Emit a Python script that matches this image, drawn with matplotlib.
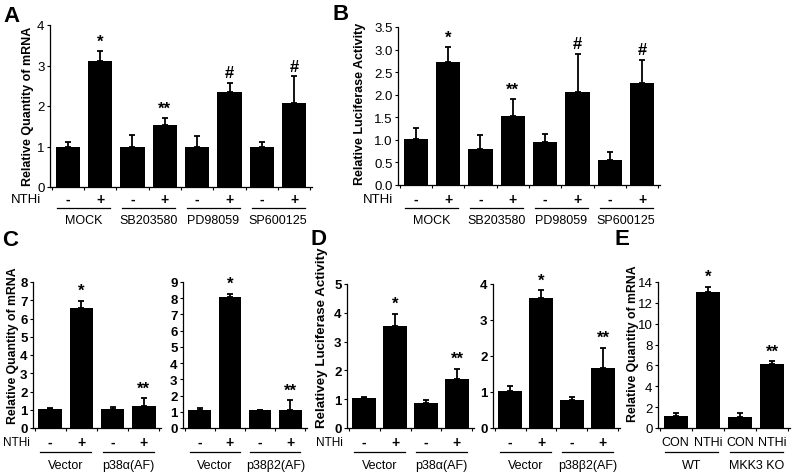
import numpy as np
import matplotlib.pyplot as plt

plt.rcParams['font.family'] = ['Liberation Sans', 'DejaVu Sans']

# ---- data ----
a_vals = [1.0, 3.1, 1.0, 1.53, 1.0, 2.34, 1.0, 2.08]
a_errs = [0.1, 0.25, 0.28, 0.17, 0.25, 0.24, 0.1, 0.65]
a_marks = ['', '*', '', '**', '', '#', '', '#']
a_groups = ['MOCK', 'SB203580', 'PD98059', 'SP600125']

b_vals = [1.03, 2.72, 0.8, 1.52, 0.95, 2.05, 0.56, 2.25]
b_errs = [0.23, 0.33, 0.31, 0.38, 0.18, 0.86, 0.17, 0.52]
b_marks = ['', '*', '', '**', '', '#', '', '#']

nthi_signs = ['-', '+'] * 4

c1_vals = [1.05, 6.55, 1.03, 1.23]
c1_errs = [0.04, 0.42, 0.1, 0.4]
c1_groups = ['Vector', 'p38\u03b1(AF)']

c2_vals = [1.1, 8.05, 1.08, 1.12]
c2_errs = [0.15, 0.22, 0.05, 0.58]
c2_groups = ['Vector', 'p38\u03b22(AF)']

d1_vals = [1.05, 3.55, 0.88, 1.7]
d1_errs = [0.03, 0.42, 0.1, 0.36]

d2_vals = [1.04, 3.6, 0.78, 1.67]
d2_errs = [0.14, 0.23, 0.07, 0.56]

cd_marks = ['', '*', '', '**']

e_vals = [1.12, 13.0, 1.1, 6.15]
e_errs = [0.3, 0.55, 0.33, 0.25]
e_marks = ['', '*', '', '**']
e_conds = ['CON', 'NTHi', 'CON', 'NTHi']
e_groups = ['WT', 'MKK3 KO']

W, H = 800, 477
fig = plt.figure(figsize=(8, 4.77), dpi=100)


def panel(box, vals, errs, marks, yticks, ylabels, tick_bold=False):
    x0, x1, yt, yb = box
    ax = fig.add_axes([x0 / W, 1 - yb / H, (x1 - x0) / W, (yb - yt) / H])
    n = len(vals)
    xs = np.arange(n)
    ax.bar(xs, vals, width=0.75, color='black')
    ax.errorbar(xs, vals, yerr=[np.zeros(n), errs], fmt='none', ecolor='black',
                elinewidth=1.3, capsize=2.2, capthick=1.3)
    ax.set_xlim(-0.55, n - 0.45)
    ax.set_ylim(0, yticks[-1])
    ax.set_yticks(yticks)
    ax.set_yticklabels(ylabels, fontsize=9.5, fontweight='bold' if tick_bold else 'normal')
    ax.set_xticks([])
    ax.set_xticks(np.arange(n + 1) - 0.5, minor=True)
    ax.tick_params(axis='x', which='minor', length=2.5, width=0.8, direction='out')
    ax.tick_params(axis='y', length=2.5, width=0.8, direction='out', pad=1.5)
    for s in ['top', 'right']:
        ax.spines[s].set_visible(False)
    for s in ['left', 'bottom']:
        ax.spines[s].set_linewidth(0.9)
    for x, v, e, m in zip(xs, vals, errs, marks):
        if m:
            ax.annotate(m, (x, v + e), xytext=(0, 2), textcoords='offset points',
                        ha='center', va='bottom', fontsize=12, fontweight='bold')
    return ax


def under(ax, box, tops, groups, rows, top_bold=True, top_size=10):
    x0, x1, yt, yb = box
    h = yb - yt
    tr = ax.get_xaxis_transform()
    f = lambda y: (yb - y) / h
    for i, t in enumerate(tops):
        ax.text(i, f(rows[0]), t, ha='center', va='center', fontsize=top_size,
                fontweight='bold' if top_bold else 'normal', transform=tr, clip_on=False)
    for k, g in enumerate(groups):
        c = 2 * k + 0.5
        ax.plot([c - 0.82, c + 0.82], [f(rows[1])] * 2, color='black', lw=0.9,
                transform=tr, clip_on=False)
        ax.text(c, f(rows[2]), g, ha='center', va='center', fontsize=9,
                transform=tr, clip_on=False)


top_rows = (200, 209, 221)
bot_rows = (443, 453, 466)

# A
box_a = (50, 312, 26, 188)
ax_a = panel(box_a, a_vals, a_errs, a_marks, [0, 1, 2, 3, 4], ['0', '1', '2', '3', '4'])
under(ax_a, box_a, nthi_signs, a_groups, top_rows)

# B
box_b = (398, 660, 28, 186)
bt = [0, 0.5, 1.0, 1.5, 2.0, 2.5, 3.0, 3.5]
ax_b = panel(box_b, b_vals, b_errs, b_marks, bt, [f'{t:.1f}' for t in bt])
under(ax_b, box_b, nthi_signs, a_groups, top_rows)

# C
box_c1 = (33, 161, 283, 429)
ax_c1 = panel(box_c1, c1_vals, c1_errs, cd_marks, list(range(9)),
              [str(t) for t in range(9)], tick_bold=True)
under(ax_c1, box_c1, nthi_signs[:4], c1_groups, bot_rows)

box_c2 = (183, 307, 283, 429)
ax_c2 = panel(box_c2, c2_vals, c2_errs, cd_marks, list(range(10)),
              [str(t) for t in range(10)], tick_bold=True)
under(ax_c2, box_c2, nthi_signs[:4], c2_groups, bot_rows)

# D
box_d1 = (347, 474, 285, 429)
ax_d1 = panel(box_d1, d1_vals, d1_errs, cd_marks, list(range(6)),
              [str(t) for t in range(6)], tick_bold=True)
under(ax_d1, box_d1, nthi_signs[:4], c1_groups, bot_rows)

box_d2 = (493, 620, 285, 429)
ax_d2 = panel(box_d2, d2_vals, d2_errs, cd_marks, list(range(5)),
              [str(t) for t in range(5)], tick_bold=True)
under(ax_d2, box_d2, nthi_signs[:4], c2_groups, bot_rows)

# E
box_e = (658, 790, 283, 429)
et = list(range(0, 15, 2))
ax_e = panel(box_e, e_vals, e_errs, e_marks, et, [str(t) for t in et])
under(ax_e, box_e, e_conds, e_groups, bot_rows, top_bold=False, top_size=9)

# y labels
def ylab(x, y, s, size=9):
    fig.text(x / W, 1 - y / H, s, rotation=90, ha='center', va='center',
             fontsize=size, fontweight='bold')

ylab(28, 106, 'Relative Quantity of mRNA')
ylab(360, 104, 'Relative Luciferase Activity')
ylab(13, 346, 'Relative Quantity of mRNA', size=8.8)
ylab(322, 338, 'Relativey Luciferase Activity', size=9.6)
ylab(633, 344, 'Relative Quantity of mRNA', size=8.8)

# NTHi row labels
for x, y, size in [(41, 200, 9.5), (393, 200, 9.5), (30, 443, 8.5), (343, 443, 8.5)]:
    fig.text(x / W, 1 - y / H, 'NTHi', ha='right', va='center', fontsize=size)

# panel letters
for x, y, s in [(12, 17, 'A'), (341, 15, 'B'), (10, 241, 'C'), (318, 240, 'D'), (622, 240, 'E')]:
    fig.text(x / W, 1 - y / H, s, ha='center', va='center', fontsize=16, fontweight='bold')

fig.savefig('out.png', dpi=100)
